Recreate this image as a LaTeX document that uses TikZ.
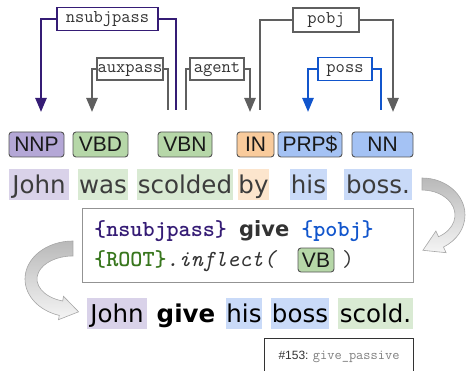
\documentclass[tikz,border=0pt]{standalone}
\usepackage{fontspec}
\usetikzlibrary{arrows.meta}
\newfontfamily\wordfont{DejaVu Sans}
\newfontfamily\tagfont{Liberation Sans}
\definecolor{nsubjcol}{RGB}{53,28,117}
\definecolor{posscol}{RGB}{17,85,204}
\definecolor{arcgray}{RGB}{95,95,95}
\definecolor{rootcol}{RGB}{56,118,29}
\definecolor{tagborder}{RGB}{85,85,85}
\definecolor{nnpfill}{RGB}{180,167,214}
\definecolor{vbfill}{RGB}{182,215,168}
\definecolor{infill}{RGB}{249,203,156}
\definecolor{nnfill}{RGB}{164,194,244}
\definecolor{johnbg}{RGB}{217,210,233}
\definecolor{verbbg}{RGB}{217,234,211}
\definecolor{bybg}{RGB}{252,229,205}
\definecolor{nounbg}{RGB}{201,218,248}
\definecolor{txtgray}{RGB}{60,60,60}
\definecolor{txtdark}{RGB}{51,51,51}

\begin{document}
\begin{tikzpicture}[x=1pt, y=1pt,
	tag/.style = {draw=tagborder, line width=0.9pt, rounded corners=3pt, minimum height=25pt, inner sep=0pt, text height=15pt, text depth=0pt, font=\tagfont\fontsize{21}{21}\selectfont, text=black!90},
	word/.style = {inner sep=0pt, minimum height=31pt, text height=25pt, text depth=6pt, font=\wordfont\fontsize{24.5}{24.5}\selectfont, text=txtgray},
	lbl/.style = {draw, fill=white, line width=1.1pt, inner sep=0pt, minimum height=23pt, text height=12pt, text depth=4pt, font=\ttfamily\fontsize{18}{18}\selectfont, text=txtdark},
	dep/.style = {line width=2.5pt, -{Triangle[width=11pt,length=14pt]}},
	hook/.style = {top color=gray!55, bottom color=gray!8, draw=gray!70, line width=0.6pt}]
				\useasboundingbox (0,0) rectangle (466,370);
				\clip (0,0) rectangle (466,370);
				% dependency arcs
				\coordinate (nsH) at (176,260);
				\coordinate (nsD) at (41,258);
				\coordinate (auxH) at (168,260);
				\coordinate (auxD) at (92,258);
				\coordinate (agH) at (186,260);
				\coordinate (agD) at (250,258);
				\coordinate (pobjH) at (260,260);
				\coordinate (pobjD) at (393,258);
				\coordinate (possH) at (381,260);
				\coordinate (possD) at (308,258);
				\node[lbl, draw=nsubjcol, minimum width=101pt] (nsL) at (107.5,351) {nsubjpass};
				\node[lbl, draw=arcgray, minimum width=66pt, minimum height=22pt] (auxL) at (130,301) {auxpass};
				\node[lbl, draw=arcgray, minimum width=54pt, minimum height=22pt] (agL) at (217,301) {agent};
				\node[lbl, draw=arcgray, minimum width=66pt, minimum height=24pt] (pobjL) at (326,350) {pobj};
				\node[lbl, draw=posscol, minimum width=54pt] (possL) at (345,301) {poss};
				\draw[dep, nsubjcol] (nsH) |- (nsL.east) (nsL.west) -| (nsD);
				\draw[dep, arcgray] (auxH) |- (auxL.east) (auxL.west) -| (auxD);
				\draw[dep, arcgray] (agH) |- (agL.west) (agL.east) -| (agD);
				\draw[dep, arcgray] (pobjH) |- (pobjL.west) (pobjL.east) -| (pobjD);
				\draw[dep, posscol] (possH) |- (possL.east) (possL.west) -| (possD);
				% tags
				\node[tag, fill=nnpfill, minimum width=55pt] (NNP) at (36.5,225.5) {NNP};
				\node[tag, fill=vbfill, minimum width=55pt] (VBD) at (100.5,225.5) {VBD};
				\node[tag, fill=vbfill, minimum width=54pt] (VBN) at (185,225.5) {VBN};
				\node[tag, fill=infill, minimum width=37pt] (IN) at (255.5,225.5) {IN};
				\node[tag, fill=nnfill, minimum width=64pt] (PRP) at (310,225.5) {PRP\$};
				\node[tag, fill=nnfill, minimum width=61pt] (NN) at (382.5,225.5) {NN};
				% source sentence
				\node[word, fill=johnbg, minimum width=60pt] (john) at (39,185.5) {John};
				\node[word, fill=verbbg, minimum width=50pt] (was) at (103,185.5) {was};
				\node[word, fill=verbbg, minimum width=96pt] (scolded) at (185,185.5) {scolded};
				\node[word, fill=bybg, minimum width=31pt] (by) at (253.5,185.5) {by};
				\node[word, fill=nounbg, minimum width=37pt] (his) at (308.5,185.5) {his};
				\node[word, fill=nounbg, minimum width=68pt] (boss) at (378,185.5) {boss.};
				% template
				\node[draw=gray!85, line width=1pt, minimum width=331pt, minimum height=73pt] (tmpl) at (247.5,124.5) {};
				\node[anchor=base west, inner sep=0pt, font=\ttfamily\bfseries\fontsize{23}{23}\selectfont] (line1) at (94,133)
					{\textcolor{nsubjcol}{\{nsubjpass\}} \textcolor{txtdark}{\wordfont\fontsize{21}{21}\selectfont give} \textcolor{posscol}{\{pobj\}}};
				\node[anchor=base west, inner sep=0pt, font=\ttfamily\fontsize{23}{23}\selectfont] (line2) at (94,104)
					{\textcolor{rootcol}{\bfseries\{ROOT\}}\textcolor{txtdark}{\itshape .inflect(}};
				\node[tag, fill=vbfill, minimum width=36pt, minimum height=24pt] (VB) at (316,110) {VB};
				\node[anchor=base west, inner sep=0pt, font=\ttfamily\fontsize{23}{23}\selectfont, text=txtdark] (rpar) at (342,104) {)};
				% result sentence
				\node[word, fill=johnbg, minimum width=60pt, text=black] (john2) at (117,57) {John};
				\node[word, text=black, font=\wordfont\bfseries\fontsize{24.5}{24.5}\selectfont] (give2) at (186,57) {give};
				\node[word, fill=nounbg, minimum width=36pt, text=black] (his2) at (244,57) {his};
				\node[word, fill=nounbg, minimum width=58pt, text=black] (boss2) at (300,57) {boss};
				\node[word, fill=verbbg, minimum width=75pt, text=black] (scold2) at (375.5,57) {scold.};
				% curved arrows
				\shadedraw[hook] (422,192) arc[start angle=90, end angle=-60, x radius=43, y radius=37]
					-- (446.1,117.3) -- (422.9,119.7) -- (435.9,139) -- (438.5,133.3)
					arc[start angle=-60, end angle=90, x radius=33, y radius=25] -- cycle;
				\shadedraw[hook] (73,129) arc[start angle=90, end angle=253.4, x radius=48, y radius=38]
					-- (58.5,50.3) -- (78.6,58.2) -- (63.5,73.7) -- (62.7,69)
					arc[start angle=253.4, end angle=90, x radius=36, y radius=23] -- cycle;
				% source box
				\node[draw=black!80, line width=1pt, minimum width=149pt, minimum height=50pt, anchor=north] (src) at (338.5,32) {};
				\node[inner sep=0pt, font=\tagfont\fontsize{12}{12}\selectfont, text=txtdark] (srcTxt) at (339,13)
					{\#153: {\ttfamily\fontsize{14}{14}\selectfont\color{gray}give\_passive}};
			\end{tikzpicture}
\end{document}
